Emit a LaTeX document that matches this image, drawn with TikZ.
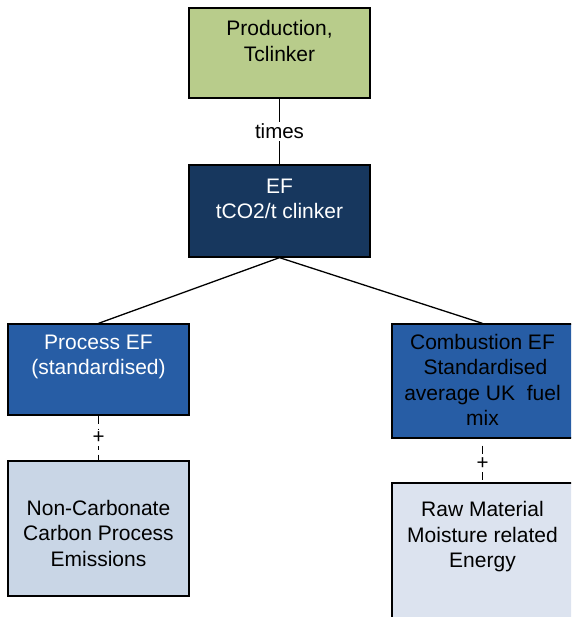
\documentclass[tikz,border=0pt]{standalone}
\usepackage{fontspec}
\setmainfont{Liberation Sans}
\definecolor{prodgreen}{HTML}{B8CC8B}
\definecolor{efnavy}{HTML}{17375E}
\definecolor{procblue}{HTML}{275DA5}
\definecolor{noncfill}{HTML}{C9D6E6}
\definecolor{rawfill}{HTML}{DCE3EF}
\begin{document}
\begin{tikzpicture}[x=1pt,y=-1pt,
  box/.style={draw=black, line width=1.3pt, rectangle, inner sep=0pt},
  txt/.style={align=center, inner sep=0pt, font=\fontsize{21}{25.5}\selectfont},
  link/.style={draw=black, line width=1.3pt},
  dashlink/.style={draw=black, line width=1.5pt, dash pattern=on 8pt off 5pt},
  tag/.style={fill=white, inner sep=2pt, font=\fontsize{20.5}{24}\selectfont}]
\useasboundingbox (0,0) rectangle (571,617);
\begin{scope}
\clip (0,0) rectangle (571,617);
% boxes
\node[box, fill=prodgreen, minimum width=181pt, minimum height=90pt] (prod) at (279.5,53) {};
\node[box, fill=efnavy, minimum width=181pt, minimum height=92pt] (ef) at (279.5,211) {};
\node[box, fill=procblue, minimum width=181pt, minimum height=91pt] (proc) at (98.5,369.5) {};
\node[box, fill=noncfill, minimum width=181pt, minimum height=135pt] (nonc) at (98.5,528.5) {};
\node[box, fill=procblue, minimum width=181pt, minimum height=114pt] (comb) at (482.5,381) {};
\node[box, fill=rawfill, minimum width=181pt, minimum height=160pt] (raw) at (482.5,563) {};
% connectors
\draw[link] (prod.south) -- node[tag] {times} (ef.north);
\draw[link] (ef.south) -- (proc.north);
\draw[link] (ef.south) -- (comb.north);
\draw[dashlink] (proc.south) -- node[tag] {+} (nonc.north);
\draw[dashlink] ([yshift=-7pt]comb.south) -- node[tag] {+} (raw.north);
% box texts
\node[txt] (prodtxt) at (279.5,41) {Production,\\Tclinker};
\node[txt, text=white] (eftxt) at (279.5,199) {EF\\tCO2/t clinker};
\node[txt, text=white] (proctxt) at (98.5,357) {Process EF\\(standardised)};
\node[txt] (nonctxt) at (98.5,533) {Non-Carbonate\\Carbon Process\\Emissions};
\node[txt] (combtxt) at (482.5,380) {Combustion EF\\\ Standardised\\average UK\ \ fuel\\mix};
\node[txt] (rawtxt) at (482.5,537) {Raw Material\\Moisture related\\Energy};
\end{scope}
\end{tikzpicture}
\end{document}
